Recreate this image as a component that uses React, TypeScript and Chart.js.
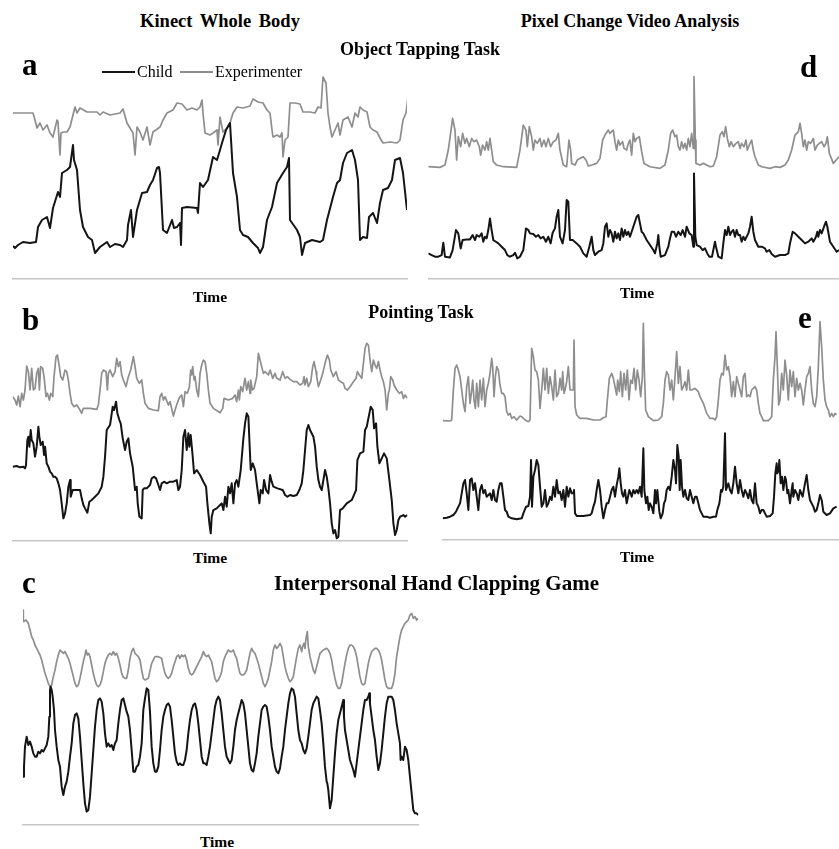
import React, { useEffect, useRef } from "react";
import { Chart, registerables } from "chart.js";

Chart.register(...registerables);

type Pair = [number, number]; // [time sample, movement value]

// ---------- Panel a : Kinect Whole Body, Object Tapping Task ----------
const kinectTappingChild: Pair[] = [
  [0,33],[2,31],[5,34],[10,37],[17,36],[23,37],[25,52],[29,59],[34,62],[37,51],[40,71],[45,87],[47,82],[49,106],[54,109],[57,112],[60,134],[61,119],[64,109],[67,69],[70,52],[75,42],[79,39],[82,26],[87,32],[94,37],[97,32],[102,35],[107,34],[110,32],[114,39],[115,54],[118,69],[120,42],[124,69],[129,86],[134,87],[137,94],[140,99],[144,111],[146,112],[147,106],[150,49],[154,46],[159,59],[161,51],[164,52],[167,56],[168,34],[169,71],[174,72],[184,71],[185,66],[187,96],[190,92],[195,99],[200,122],[204,119],[207,129],[209,136],[213,149],[217,156],[220,106],[224,82],[227,49],[230,44],[235,42],[240,36],[245,31],[247,26],[250,32],[254,59],[259,72],[264,96],[270,106],[274,112],[276,121],[277,59],[284,49],[287,42],[289,24],[292,36],[299,39],[307,37],[310,39],[314,59],[320,82],[324,96],[327,99],[330,116],[334,126],[339,129],[342,119],[345,99],[347,39],[350,42],[354,41],[356,62],[360,66],[364,56],[367,76],[370,89],[375,91],[379,99],[382,119],[387,121],[390,106],[394,69]
];
const kinectTappingExperimenter: Pair[] = [
  [0,166],[20,166],[22,159],[24,151],[27,156],[30,149],[34,154],[37,146],[40,142],[44,159],[45,157],[47,124],[48,146],[50,147],[54,147],[57,152],[62,172],[64,166],[67,171],[74,167],[84,167],[87,164],[90,167],[97,164],[107,166],[110,170],[114,156],[117,151],[120,146],[122,124],[124,152],[127,147],[130,139],[134,152],[135,146],[137,134],[140,147],[147,152],[150,159],[154,166],[160,169],[164,176],[169,175],[174,169],[179,171],[184,169],[187,172],[189,179],[190,166],[192,146],[197,144],[200,146],[204,149],[205,134],[207,162],[210,147],[214,151],[217,156],[220,166],[224,172],[230,171],[237,173],[240,180],[245,177],[250,176],[254,169],[257,166],[259,149],[260,142],[264,144],[267,142],[269,146],[270,122],[272,139],[275,142],[277,176],[282,176],[287,175],[290,167],[297,167],[302,166],[305,172],[308,171],[310,202],[313,196],[315,166],[317,152],[319,142],[322,149],[325,156],[327,144],[330,159],[335,162],[339,152],[342,166],[345,162],[347,172],[350,169],[354,167],[357,152],[360,149],[364,147],[367,141],[370,136],[377,137],[384,136],[387,139],[390,159],[393,166],[395,182]
];

// ---------- Panel d : Pixel Change, Object Tapping Task ----------
const pixelTappingChild: Pair[] = [
  [0,75],[10,70],[20,65],[30,65],[40,70],[45,107],[50,65],[65,63],[73,85],[83,145],[90,135],[97,90],[103,115],[115,117],[125,117],[133,130],[140,115],[145,130],[153,125],[160,135],[165,110],[170,125],[175,120],[180,145],[185,180],[190,145],[195,115],[203,110],[210,105],[220,95],[230,85],[237,70],[245,65],[255,70],[260,77],[267,60],[275,65],[285,85],[293,150],[300,145],[305,135],[315,133],[323,125],[330,130],[337,120],[345,125],[353,110],[360,125],[367,105],[373,137],[380,150],[385,185],[390,205],[395,125],[403,105],[410,145],[415,235],[420,230],[425,115],[433,115],[445,105],[455,95],[465,75],[475,65],[483,95],[490,125],[495,85],[500,70],[510,80],[520,85],[525,105],[530,155],[535,165],[540,125],[545,145],[550,135],[555,110],[560,140],[565,120],[570,135],[575,115],[580,150],[585,125],[590,145],[595,130],[600,140],[605,125],[615,155],[625,185],[630,190],[635,165],[640,140],[645,135],[655,115],[665,100],[675,85],[680,75],[687,105],[690,130],[693,95],[697,65],[710,70],[720,95],[725,120],[730,140],[737,140],[743,125],[750,140],[757,130],[763,145],[770,125],[775,155],[783,135],[790,130],[795,95],[797,315],[801,125],[805,100],[815,95],[823,85],[830,90],[837,75],[843,65],[851,65],[855,85],[860,110],[863,95],[870,65],[880,60],[885,105],[890,145],[895,130],[900,155],[905,130],[910,140],[915,145],[920,125],[925,145],[930,130],[935,130],[940,110],[945,125],[950,115],[960,135],[965,155],[970,185],[975,140],[980,115],[990,95],[1000,95],[1010,90],[1015,80],[1023,85],[1030,73],[1040,65],[1055,70],[1070,70],[1080,75],[1085,105],[1093,140],[1100,135],[1110,125],[1120,115],[1130,105],[1140,110],[1150,120],[1155,110],[1163,125],[1167,140],[1170,125],[1175,145],[1180,135],[1187,155],[1193,170],[1197,155],[1205,110],[1215,95],[1225,80],[1232,85]
];
const pixelTappingExperimenter: Pair[] = [
  [0,335],[35,333],[50,340],[60,385],[73,480],[80,445],[85,355],[90,425],[97,395],[103,435],[110,405],[115,420],[123,395],[130,420],[137,410],[145,415],[153,395],[157,370],[163,400],[170,385],[175,410],[180,385],[185,420],[190,385],[195,350],[205,340],[225,335],[265,333],[275,385],[285,460],[293,445],[297,395],[303,455],[310,425],[315,385],[320,415],[327,405],[335,420],[340,395],[347,415],[353,395],[360,420],[367,395],[375,410],[383,415],[390,435],[395,385],[405,340],[415,335],[422,415],[427,385],[430,345],[440,340],[447,355],[455,360],[465,365],[473,355],[480,337],[490,340],[505,345],[515,360],[523,415],[530,430],[540,445],[545,435],[550,440],[555,445],[560,410],[565,385],[570,415],[575,400],[583,410],[587,390],[595,385],[600,405],[605,415],[610,370],[615,435],[620,410],[625,420],[633,425],[640,380],[647,345],[665,335],[695,330],[710,340],[720,385],[727,435],[733,445],[740,425],[745,430],[750,395],[755,385],[760,410],[765,390],[770,405],[775,385],[780,420],[785,395],[790,435],[795,390],[797,605],[801,415],[803,345],[815,340],[825,345],[835,340],[845,335],[855,337],[865,365],[875,430],[882,440],[887,425],[892,455],[897,420],[903,395],[908,410],[915,395],[923,405],[930,410],[935,390],[940,405],[947,395],[953,415],[957,385],[963,400],[970,415],[975,385],[980,365],[990,340],[1000,335],[1025,330],[1040,335],[1055,333],[1070,340],[1080,355],[1090,385],[1100,430],[1110,440],[1115,465],[1120,435],[1125,395],[1130,415],[1135,385],[1140,410],[1147,405],[1155,420],[1160,385],[1167,400],[1173,405],[1180,410],[1187,395],[1193,405],[1197,425],[1203,375],[1215,345],[1232,365]
];

// ---------- Panel b : Kinect Whole Body, Pointing Task ----------
const kinectPointingChild: Pair[] = [
  [0,222],[12,224],[22,220],[32,222],[37,217],[40,227],[44,302],[47,312],[50,282],[54,332],[57,302],[62,292],[67,252],[72,282],[77,342],[80,312],[84,287],[90,297],[94,257],[97,282],[102,232],[107,222],[112,207],[117,202],[122,192],[127,192],[132,187],[137,172],[142,152],[147,112],[152,67],[157,82],[162,112],[167,162],[172,182],[174,132],[180,152],[187,152],[202,152],[207,127],[212,107],[217,97],[224,84],[230,117],[237,122],[242,127],[247,132],[257,142],[267,162],[272,192],[277,252],[282,332],[292,347],[300,402],[304,392],[310,417],[314,382],[320,362],[324,352],[330,307],[337,272],[342,297],[347,307],[352,262],[360,222],[367,152],[372,162],[375,112],[380,72],[387,67],[390,152],[394,157],[402,157],[412,167],[417,187],[424,192],[430,187],[437,167],[442,152],[447,172],[454,177],[462,172],[472,177],[482,177],[492,182],[497,152],[502,162],[507,212],[512,312],[517,332],[522,272],[527,322],[530,282],[534,317],[540,252],[544,202],[552,212],[562,197],[572,177],[580,162],[584,112],[590,52],[594,22],[597,72],[602,92],[612,97],[622,107],[627,112],[632,92],[637,132],[642,102],[647,162],[652,142],[657,172],[662,112],[667,172],[672,182],[677,162],[684,212],[692,307],[697,352],[702,382],[707,372],[710,302],[714,212],[720,232],[727,212],[732,172],[740,112],[744,152],[750,142],[754,182],[760,152],[767,142],[772,197],[777,177],[782,162],[794,157],[810,152],[817,137],[824,132],[832,137],[842,134],[852,137],[860,152],[867,172],[872,212],[877,272],[882,332],[887,347],[892,332],[902,312],[907,282],[912,222],[917,182],[922,162],[927,152],[932,182],[937,212],[942,192],[947,157],[952,112],[957,52],[962,22],[967,32],[972,7],[977,12],[982,92],[990,97],[1002,112],[1017,122],[1030,152],[1034,242],[1042,262],[1052,267],[1057,332],[1062,342],[1070,382],[1074,402],[1080,392],[1084,337],[1090,352],[1094,282],[1100,232],[1107,247],[1114,262],[1122,247],[1130,182],[1137,122],[1142,52],[1147,17],[1152,32],[1157,62],[1162,72],[1172,77],[1177,72],[1184,77]
];
const kinectPointingExperimenter: Pair[] = [
  [0,432],[7,422],[12,407],[17,434],[22,402],[27,442],[32,422],[37,452],[42,524],[47,507],[52,452],[57,517],[62,452],[67,457],[72,502],[77,517],[80,452],[84,522],[90,517],[94,492],[100,432],[104,442],[110,422],[114,442],[120,432],[124,492],[130,552],[134,557],[140,522],[144,492],[150,482],[157,512],[162,507],[167,482],[172,442],[177,412],[184,402],[192,407],[202,392],[207,382],[212,397],[232,397],[252,394],[257,407],[262,452],[267,502],[272,512],[280,507],[284,452],[287,502],[292,512],[300,492],[307,507],[312,547],[317,522],[322,537],[327,497],[332,482],[340,462],[347,492],[354,512],[362,552],[367,522],[372,487],[380,472],[387,482],[392,442],[397,412],[407,397],[422,392],[437,390],[442,432],[447,442],[452,422],[457,432],[467,407],[472,417],[482,374],[490,402],[497,422],[502,432],[507,437],[512,402],[517,447],[524,442],[530,462],[534,512],[537,497],[540,522],[544,482],[547,492],[552,452],[557,432],[562,502],[567,527],[572,542],[577,537],[582,502],[587,452],[592,412],[602,397],[622,384],[630,397],[634,427],[647,422],[660,427],[667,437],[672,417],[677,452],[680,422],[684,462],[690,447],[694,472],[697,487],[702,452],[707,477],[712,442],[714,482],[719,452],[724,457],[732,492],[737,562],[742,542],[747,522],[752,502],[757,507],[767,497],[772,512],[780,487],[787,502],[792,487],[802,482],[810,507],[817,487],[824,492],[832,484],[842,477],[852,477],[862,467],[870,472],[874,492],[877,467],[882,487],[887,462],[894,477],[900,522],[904,537],[910,507],[912,492],[917,462],[924,482],[930,502],[937,532],[944,557],[950,542],[954,512],[962,492],[970,507],[977,482],[984,477],[992,472],[997,457],[1004,452],[1012,462],[1022,477],[1030,487],[1034,507],[1040,497],[1047,487],[1052,532],[1057,577],[1062,592],[1067,587],[1072,542],[1077,507],[1082,542],[1087,527],[1092,517],[1097,537],[1102,512],[1107,492],[1112,477],[1117,452],[1122,392],[1127,442],[1130,452],[1134,492],[1140,482],[1144,467],[1152,452],[1160,442],[1167,447],[1172,427],[1177,437],[1184,427]
];

// ---------- Panel e : Pixel Change, Pointing Task ----------
const pixelPointingChild: Pair[] = [
  [0,65],[12,67],[22,70],[32,75],[40,85],[47,100],[52,110],[57,140],[62,170],[67,180],[72,140],[77,90],[82,180],[87,185],[92,150],[97,170],[102,130],[107,90],[112,150],[117,165],[122,140],[127,150],[132,130],[137,135],[142,140],[147,120],[152,150],[157,120],[162,115],[167,150],[172,170],[177,170],[182,130],[187,90],[192,85],[197,70],[207,65],[222,62],[237,65],[242,80],[250,100],[257,102],[262,130],[265,240],[268,100],[272,190],[277,210],[282,240],[287,225],[292,160],[297,100],[302,110],[307,150],[312,100],[317,110],[322,130],[327,120],[332,160],[337,130],[342,180],[347,140],[352,145],[357,120],[362,150],[367,100],[372,160],[377,130],[382,155],[387,140],[392,140],[394,150],[397,80],[402,72],[422,72],[442,75],[447,80],[452,100],[457,115],[462,150],[467,180],[472,150],[477,100],[482,65],[487,90],[492,110],[497,110],[502,130],[507,150],[512,160],[517,130],[522,165],[527,190],[530,215],[534,170],[538,140],[542,130],[547,150],[552,110],[557,135],[560,150],[564,140],[567,130],[572,150],[577,140],[582,150],[587,140],[592,160],[597,130],[602,275],[605,150],[610,110],[614,130],[618,90],[622,110],[627,100],[632,80],[637,150],[640,110],[644,150],[650,85],[654,65],[660,80],[664,110],[668,120],[672,150],[677,160],[682,150],[687,190],[692,240],[697,210],[700,170],[704,285],[708,250],[711,150],[714,240],[718,160],[722,130],[727,150],[732,125],[737,120],[742,150],[747,130],[752,110],[757,130],[762,130],[767,110],[772,90],[777,80],[782,70],[792,70],[802,67],[812,70],[820,70],[824,90],[830,110],[835,150],[838,145],[842,160],[847,320],[850,150],[857,170],[862,150],[867,140],[872,170],[877,220],[882,170],[887,140],[892,180],[897,150],[902,130],[907,150],[912,140],[917,125],[922,150],[927,120],[932,110],[937,170],[942,110],[947,100],[952,80],[957,90],[962,90],[967,80],[972,70],[982,72],[990,80],[994,130],[998,200],[1002,230],[1004,200],[1008,210],[1010,240],[1014,170],[1018,190],[1022,150],[1027,190],[1030,180],[1034,140],[1037,150],[1042,110],[1047,150],[1050,170],[1052,130],[1057,150],[1062,140],[1067,120],[1072,150],[1080,130],[1087,170],[1092,195],[1097,150],[1102,120],[1107,110],[1112,100],[1117,85],[1122,90],[1127,110],[1132,135],[1137,120],[1142,85],[1152,75],[1162,80],[1172,95],[1182,100]
];
const pixelPointingExperimenter: Pair[] = [
  [0,358],[22,357],[27,360],[32,450],[37,515],[42,525],[47,510],[52,490],[57,450],[62,410],[67,385],[72,460],[77,490],[82,410],[87,450],[90,480],[94,420],[98,395],[102,470],[107,400],[112,480],[117,420],[122,485],[127,400],[132,450],[137,470],[142,500],[147,545],[150,520],[154,430],[158,490],[162,520],[167,510],[172,465],[177,440],[182,440],[187,430],[192,385],[197,375],[202,380],[207,365],[214,370],[222,360],[232,372],[237,370],[247,360],[257,355],[262,360],[267,575],[272,550],[277,510],[282,505],[287,480],[292,395],[297,450],[302,515],[307,450],[312,515],[317,440],[322,490],[327,460],[332,420],[337,510],[342,430],[347,440],[352,485],[357,450],[360,505],[364,440],[367,450],[372,475],[377,520],[382,450],[387,450],[392,450],[394,600],[397,400],[402,375],[412,365],[432,365],[452,360],[472,360],[482,367],[490,370],[494,420],[500,485],[507,500],[512,485],[517,460],[522,435],[525,480],[530,445],[534,505],[539,430],[544,500],[549,450],[554,510],[559,420],[564,480],[569,470],[574,515],[579,450],[584,510],[589,480],[594,430],[599,490],[602,650],[605,510],[609,390],[617,370],[632,358],[647,360],[657,370],[662,410],[667,480],[672,505],[677,495],[682,450],[687,480],[692,420],[697,490],[702,565],[707,470],[712,520],[717,450],[722,460],[727,475],[732,450],[737,510],[742,450],[747,450],[757,455],[767,445],[772,430],[782,410],[792,380],[802,365],[812,365],[817,360],[822,370],[827,420],[832,480],[837,500],[842,495],[847,555],[852,510],[857,520],[862,490],[867,430],[872,475],[877,430],[882,490],[887,470],[892,450],[897,430],[902,490],[907,500],[912,430],[917,435],[922,430],[927,450],[932,455],[937,460],[942,450],[947,410],[952,380],[957,370],[962,358],[977,358],[987,370],[992,480],[997,550],[1000,625],[1004,520],[1008,405],[1012,420],[1017,500],[1022,450],[1027,540],[1032,495],[1037,420],[1042,510],[1047,460],[1052,505],[1057,430],[1062,485],[1067,450],[1072,470],[1077,450],[1082,405],[1087,450],[1092,490],[1097,500],[1102,520],[1107,450],[1112,410],[1117,400],[1122,430],[1127,520],[1132,655],[1137,580],[1142,480],[1147,420],[1152,400],[1157,390],[1162,370],[1167,380],[1172,370],[1177,380],[1182,375]
];

// ---------- Panel c : Kinect Whole Body, Interpersonal Hand Clapping Game ----------
const kinectClappingChild: Pair[] = [
  [0,145],[3,175],[6,235],[11,265],[16,240],[21,250],[26,235],[31,215],[36,205],[41,205],[46,220],[51,215],[56,225],[61,220],[66,230],[71,240],[76,265],[79,325],[81,405],[83,415],[86,405],[89,385],[93,345],[96,285],[101,235],[106,195],[111,175],[116,115],[121,90],[126,115],[131,130],[136,160],[141,205],[146,245],[151,305],[156,330],[161,335],[166,320],[171,265],[176,195],[181,125],[186,65],[191,40],[196,45],[201,85],[206,155],[211,225],[216,295],[221,345],[226,375],[231,380],[236,370],[241,335],[246,275],[251,235],[256,245],[261,235],[266,240],[271,225],[276,245],[281,255],[286,305],[291,345],[296,375],[301,380],[306,360],[311,340],[316,325],[321,285],[326,225],[331,160],[336,160],[341,175],[346,180],[351,205],[356,245],[361,345],[366,380],[371,410],[376,405],[381,340],[386,235],[391,185],[396,160],[401,160],[406,175],[411,225],[416,285],[421,325],[426,345],[431,360],[436,365],[441,355],[446,315],[451,265],[456,215],[461,190],[466,180],[471,185],[476,180],[481,180],[486,195],[491,225],[496,275],[501,315],[506,345],[511,360],[516,365],[521,345],[526,305],[531,255],[536,205],[541,185],[546,185],[551,180],[556,205],[561,235],[566,275],[571,315],[576,355],[581,375],[586,385],[591,375],[596,335],[601,285],[606,235],[611,205],[616,195],[621,185],[626,195],[631,235],[636,285],[641,315],[646,335],[651,355],[656,375],[661,365],[666,335],[671,285],[676,235],[681,185],[686,165],[691,160],[696,185],[701,215],[706,265],[711,305],[716,345],[721,355],[726,360],[731,355],[736,325],[741,285],[746,235],[751,205],[756,175],[761,160],[766,155],[771,170],[776,205],[781,235],[786,285],[791,325],[796,365],[801,395],[806,410],[811,405],[816,385],[821,335],[826,285],[831,255],[836,245],[841,225],[846,215],[851,230],[856,265],[861,305],[866,345],[871,365],[876,375],[881,385],[886,380],[891,345],[896,305],[901,245],[906,175],[911,130],[913,125],[916,105],[921,50],[926,75],[931,145],[936,215],[941,275],[946,315],[951,335],[956,355],[961,375],[963,325],[966,285],[971,255],[981,195],[991,165],[996,145],[1001,185],[1006,225],[1011,265],[1016,305],[1021,345],[1026,375],[1031,375],[1036,385],[1039,395],[1041,365],[1046,325],[1051,285],[1056,255],[1061,205],[1066,165],[1071,185],[1076,225],[1081,275],[1086,325],[1091,365],[1096,385],[1106,385],[1111,375],[1116,345],[1121,305],[1126,275],[1131,245],[1133,195],[1136,205],[1141,195],[1146,235],[1151,225],[1156,195],[1161,145],[1166,95],[1171,45],[1176,35],[1181,35],[1186,30]
];
const kinectClappingExperimenter: Pair[] = [
  [0,645],[1,610],[9,615],[16,605],[21,585],[26,565],[31,555],[36,540],[41,530],[46,520],[51,510],[56,495],[61,475],[66,455],[71,440],[76,425],[81,415],[86,420],[91,445],[96,465],[101,490],[106,510],[111,525],[116,520],[121,515],[126,520],[131,510],[136,500],[141,485],[146,465],[151,445],[156,425],[161,415],[166,420],[171,440],[176,465],[181,490],[186,510],[189,525],[193,510],[197,515],[201,505],[206,480],[211,455],[216,435],[221,420],[226,415],[231,420],[236,435],[241,460],[246,485],[251,500],[256,510],[261,515],[266,510],[271,520],[276,510],[281,515],[286,500],[291,480],[296,455],[301,443],[306,440],[311,440],[316,465],[321,500],[326,520],[331,530],[336,515],[341,510],[346,505],[351,495],[356,465],[361,440],[366,435],[376,440],[386,485],[396,505],[406,505],[416,500],[421,475],[426,455],[431,445],[436,440],[441,445],[446,455],[451,475],[456,490],[461,505],[466,510],[471,500],[476,510],[481,505],[486,510],[491,495],[496,470],[501,455],[506,450],[511,455],[516,465],[526,485],[536,505],[541,520],[546,510],[551,505],[556,510],[561,500],[566,490],[571,465],[576,440],[581,430],[586,435],[591,445],[596,460],[601,490],[606,505],[611,515],[616,525],[621,520],[626,520],[631,525],[636,510],[641,500],[646,475],[651,455],[656,450],[661,450],[666,455],[671,465],[676,490],[681,515],[686,530],[691,520],[696,515],[701,500],[706,485],[711,465],[716,445],[721,425],[726,415],[731,425],[736,440],[741,465],[746,490],[751,525],[756,540],[761,530],[766,535],[771,545],[776,535],[781,505],[786,475],[791,455],[796,440],[801,430],[806,435],[811,445],[816,475],[821,505],[826,530],[831,540],[836,520],[839,535],[843,545],[846,530],[849,560],[853,580],[856,535],[861,505],[866,485],[871,465],[876,455],[881,475],[886,495],[891,515],[901,525],[911,530],[916,525],[921,515],[926,495],[931,465],[936,440],[941,420],[946,410],[951,410],[956,425],[961,455],[966,485],[971,510],[976,530],[981,540],[986,540],[991,535],[996,525],[1001,505],[1006,475],[1011,445],[1016,425],[1021,420],[1026,425],[1031,455],[1036,485],[1041,505],[1046,520],[1051,525],[1056,530],[1061,530],[1066,525],[1071,515],[1076,495],[1081,465],[1086,435],[1091,415],[1096,410],[1106,410],[1111,425],[1116,455],[1121,505],[1126,535],[1131,565],[1136,585],[1141,595],[1146,605],[1151,610],[1156,615],[1161,630],[1166,635],[1171,620],[1176,625],[1181,615],[1186,620]
];

const seriesNames = ["Child", "Experimenter"];
const timeLabel = "Time";

// ---------- layout / style ----------
const CHILD_COLOR = "#141414";
const EXPERIMENTER_COLOR = "#8e8e8e";
const AXIS_COLOR = "#c6c6c6";
const SERIF = '"Liberation Serif", "Times New Roman", Times, serif';

interface PanelSpec {
  left: number; top: number; width: number; height: number;
  xMax: number; yMax: number;
  child: Pair[]; experimenter: Pair[];
}

const panels: PanelSpec[] = [
  { left: 13, top: 70, width: 394, height: 209, xMax: 394, yMax: 209, child: kinectTappingChild, experimenter: kinectTappingExperimenter },
  { left: 428.3, top: 61.7, width: 410.7, height: 216.7, xMax: 1232, yMax: 650, child: pixelTappingChild, experimenter: pixelTappingExperimenter },
  { left: 12.7, top: 324, width: 394.7, height: 216.7, xMax: 1184, yMax: 650, child: kinectPointingChild, experimenter: kinectPointingExperimenter },
  { left: 442.7, top: 306.7, width: 396.3, height: 233.3, xMax: 1189, yMax: 700, child: pixelPointingChild, experimenter: pixelPointingExperimenter },
  { left: 23, top: 590, width: 395.3, height: 235, xMax: 1186, yMax: 705, child: kinectClappingChild, experimenter: kinectClappingExperimenter },
];

const PAD = 5;

function Panel({ spec }: { spec: PanelSpec }) {
  const ref = useRef<HTMLCanvasElement | null>(null);
  const cx = Math.floor(spec.left) - PAD;
  const cy = Math.floor(spec.top) - PAD;
  const cw = Math.ceil(spec.left + spec.width) + PAD - cx;
  const ch = Math.ceil(spec.top + spec.height) + PAD - cy;
  const padding = {
    left: spec.left - cx,
    top: spec.top - cy,
    right: cx + cw - (spec.left + spec.width),
    bottom: cy + ch - (spec.top + spec.height),
  };

  useEffect(() => {
    if (!ref.current) return;
    const chart = new Chart(ref.current, {
      type: "line",
      data: {
        datasets: [
          {
            label: seriesNames[0],
            data: spec.child.map(([x, y]) => ({ x, y })),
            borderColor: CHILD_COLOR,
            borderWidth: 2,
            pointRadius: 0,
            fill: false,
            tension: 0,
            borderJoinStyle: "round",
          },
          {
            label: seriesNames[1],
            data: spec.experimenter.map(([x, y]) => ({ x, y })),
            borderColor: EXPERIMENTER_COLOR,
            borderWidth: 1.7,
            pointRadius: 0,
            fill: false,
            tension: 0,
            borderJoinStyle: "round",
          },
        ],
      },
      options: {
        animation: false,
        responsive: false,
        maintainAspectRatio: false,
        devicePixelRatio: 1,
        events: [],
        layout: { padding },
        plugins: { legend: { display: false }, tooltip: { enabled: false }, title: { display: false } },
        scales: {
          x: {
            type: "linear",
            min: 0,
            max: spec.xMax,
            ticks: { display: false },
            grid: { display: false, drawTicks: false },
            border: { display: true, color: AXIS_COLOR, width: 1.6 },
          },
          y: { type: "linear", display: false, min: 0, max: spec.yMax },
        },
      },
    } as any);
    return () => chart.destroy();
  }, []);

  return (
    <canvas
      ref={ref}
      width={cw}
      height={ch}
      style={{ position: "absolute", left: cx, top: cy, width: cw, height: ch }}
    />
  );
}

function Label({ x, y, size, bold = true, center = false, wordSpacing = 0, children }: { x: number; y: number; size: number; bold?: boolean; center?: boolean; wordSpacing?: number; children: React.ReactNode }) {
  return (
    <div
      style={{
        position: "absolute",
        left: x,
        top: y - 0.8375 * size,
        fontFamily: SERIF,
        fontSize: size,
        fontWeight: bold ? 700 : 400,
        lineHeight: 1,
        whiteSpace: "nowrap",
        wordSpacing,
        color: "#000",
        transform: center ? "translateX(-50%)" : undefined,
      }}
    >
      {children}
    </div>
  );
}

export default function App() {
  return (
    <div style={{ position: "absolute", left: 0, top: 0, width: 839, height: 849, overflow: "hidden", background: "#fff" }}>
      {panels.map((p, i) => (
        <Panel key={i} spec={p} />
      ))}

      <Label x={220} y={27} size={18.5} wordSpacing={3} center>Kinect Whole Body</Label>
      <Label x={630} y={27} size={18} center>Pixel Change Video Analysis</Label>
      <Label x={420} y={55} size={18} center>Object Tapping Task</Label>
      <Label x={421} y={318} size={18} center>Pointing Task</Label>
      <Label x={274} y={591} size={21}>Interpersonal Hand Clapping Game</Label>

      <Label x={22} y={75} size={31}>a</Label>
      <Label x={22} y={330} size={31}>b</Label>
      <Label x={22} y={593} size={31}>c</Label>
      <Label x={800} y={77} size={31}>d</Label>
      <Label x={798} y={328} size={31}>e</Label>

      <Label x={210} y={302} size={15.5} center>{timeLabel}</Label>
      <Label x={637} y={298} size={15.5} center>{timeLabel}</Label>
      <Label x={210} y={563} size={15.5} center>{timeLabel}</Label>
      <Label x={637} y={562} size={15.5} center>{timeLabel}</Label>
      <Label x={217} y={847} size={15.5} center>{timeLabel}</Label>

      {/* legend */}
      <div style={{ position: "absolute", left: 102, top: 71, width: 33, height: 2, background: CHILD_COLOR }} />
      <Label x={137} y={77} size={16} bold={false}>{seriesNames[0]}</Label>
      <div style={{ position: "absolute", left: 180, top: 71.2, width: 33, height: 1.6, background: EXPERIMENTER_COLOR }} />
      <Label x={215} y={77} size={16} bold={false}>{seriesNames[1]}</Label>
    </div>
  );
}
